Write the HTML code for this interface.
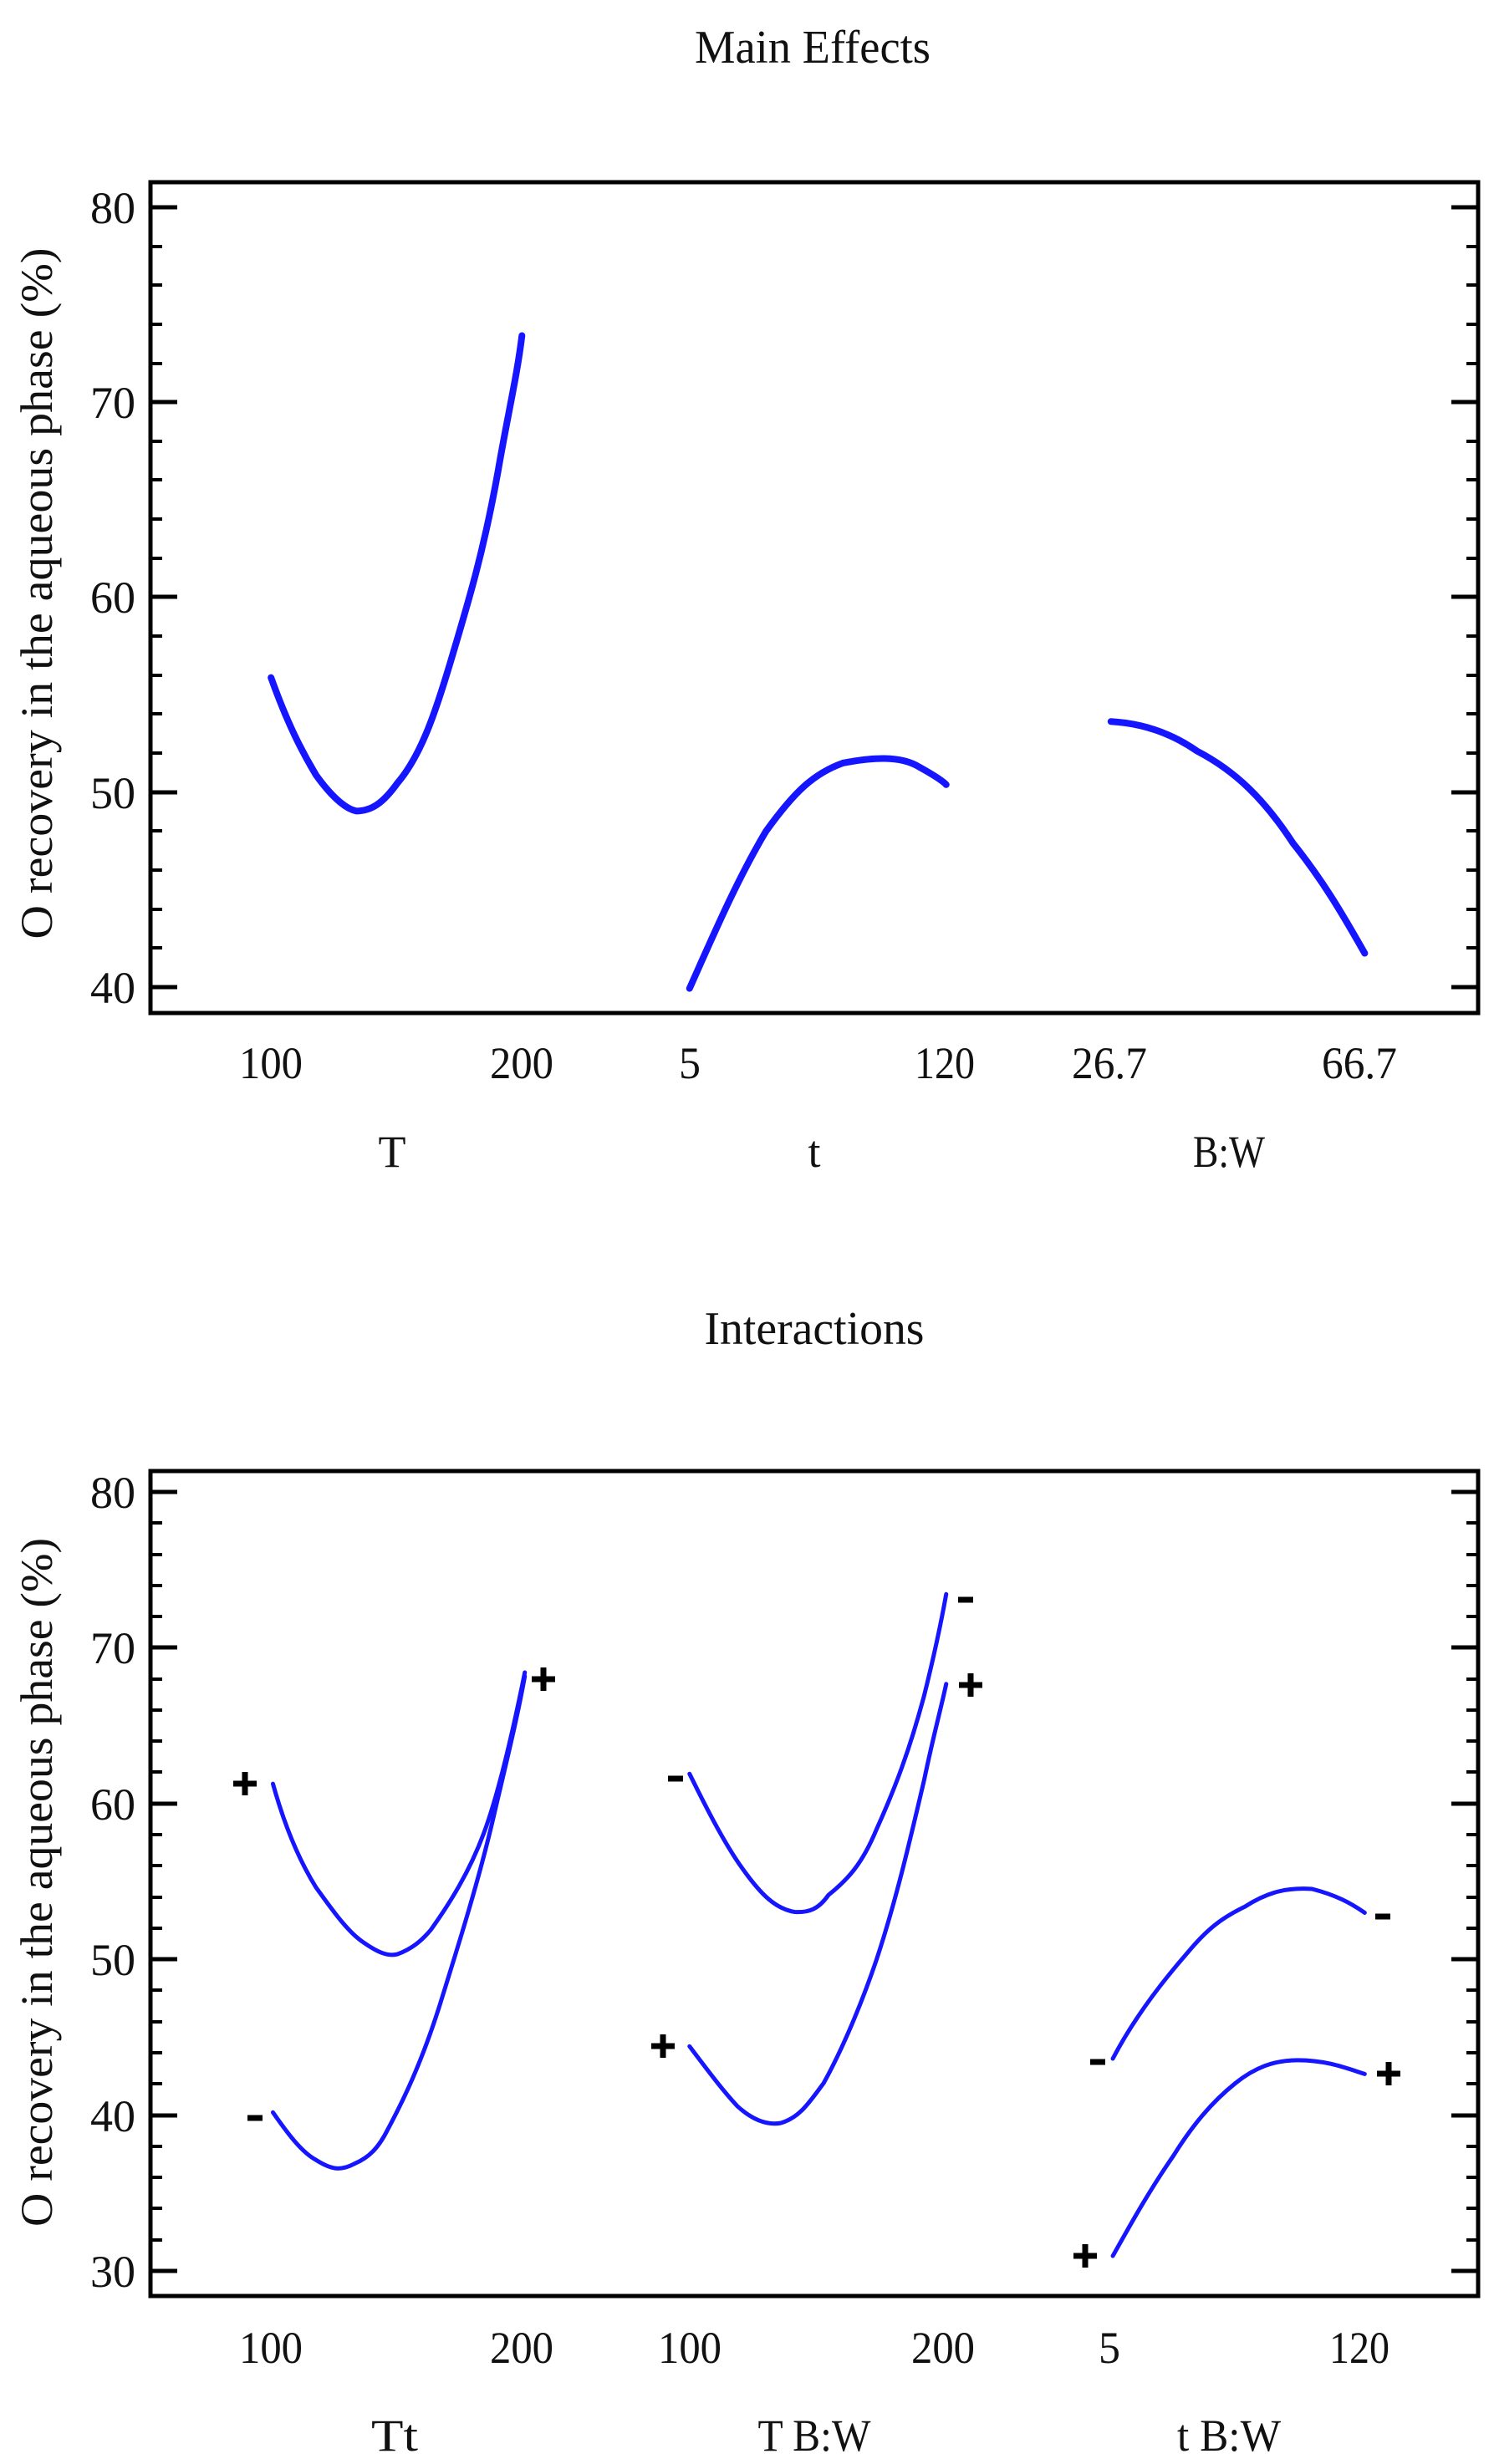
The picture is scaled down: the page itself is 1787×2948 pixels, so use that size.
<!DOCTYPE html>
<html><head><meta charset="utf-8"><style>
html,body{margin:0;padding:0;background:#fff;}
svg{display:block;}
text{font-family:"Liberation Serif",serif;fill:#111;}
</style></head><body>
<svg width="1787" height="2948" viewBox="0 0 1787 2948" xmlns="http://www.w3.org/2000/svg">
<rect width="1787" height="2948" fill="#fff"/>

<!-- ===== Main Effects ===== -->
<text x="972" y="75" font-size="56" text-anchor="middle" textLength="282" lengthAdjust="spacingAndGlyphs">Main Effects</text>
<rect x="180" y="218" width="1588" height="994" fill="none" stroke="#000" stroke-width="5"/>
<g stroke="#000" stroke-width="5">
<line x1="180" y1="248" x2="212" y2="248"/><line x1="1768" y1="248" x2="1736" y2="248"/>
<line x1="180" y1="481" x2="212" y2="481"/><line x1="1768" y1="481" x2="1736" y2="481"/>
<line x1="180" y1="714" x2="212" y2="714"/><line x1="1768" y1="714" x2="1736" y2="714"/>
<line x1="180" y1="948" x2="212" y2="948"/><line x1="1768" y1="948" x2="1736" y2="948"/>
<line x1="180" y1="1181" x2="212" y2="1181"/><line x1="1768" y1="1181" x2="1736" y2="1181"/>
</g>
<g stroke="#000" stroke-width="4">
<line x1="180" y1="295" x2="194" y2="295"/><line x1="180" y1="341" x2="194" y2="341"/><line x1="180" y1="388" x2="194" y2="388"/><line x1="180" y1="435" x2="194" y2="435"/>
<line x1="180" y1="528" x2="194" y2="528"/><line x1="180" y1="574" x2="194" y2="574"/><line x1="180" y1="621" x2="194" y2="621"/><line x1="180" y1="668" x2="194" y2="668"/>
<line x1="180" y1="761" x2="194" y2="761"/><line x1="180" y1="808" x2="194" y2="808"/><line x1="180" y1="854" x2="194" y2="854"/><line x1="180" y1="901" x2="194" y2="901"/>
<line x1="180" y1="994" x2="194" y2="994"/><line x1="180" y1="1041" x2="194" y2="1041"/><line x1="180" y1="1088" x2="194" y2="1088"/><line x1="180" y1="1134" x2="194" y2="1134"/>
<line x1="1768" y1="295" x2="1754" y2="295"/><line x1="1768" y1="341" x2="1754" y2="341"/><line x1="1768" y1="388" x2="1754" y2="388"/><line x1="1768" y1="435" x2="1754" y2="435"/>
<line x1="1768" y1="528" x2="1754" y2="528"/><line x1="1768" y1="574" x2="1754" y2="574"/><line x1="1768" y1="621" x2="1754" y2="621"/><line x1="1768" y1="668" x2="1754" y2="668"/>
<line x1="1768" y1="761" x2="1754" y2="761"/><line x1="1768" y1="808" x2="1754" y2="808"/><line x1="1768" y1="854" x2="1754" y2="854"/><line x1="1768" y1="901" x2="1754" y2="901"/>
<line x1="1768" y1="994" x2="1754" y2="994"/><line x1="1768" y1="1041" x2="1754" y2="1041"/><line x1="1768" y1="1088" x2="1754" y2="1088"/><line x1="1768" y1="1134" x2="1754" y2="1134"/>
</g>
<g font-size="54" text-anchor="end">
<text x="162" y="267" textLength="54" lengthAdjust="spacingAndGlyphs">80</text>
<text x="162" y="500" textLength="54" lengthAdjust="spacingAndGlyphs">70</text>
<text x="162" y="733" textLength="54" lengthAdjust="spacingAndGlyphs">60</text>
<text x="162" y="967" textLength="54" lengthAdjust="spacingAndGlyphs">50</text>
<text x="162" y="1200" textLength="54" lengthAdjust="spacingAndGlyphs">40</text>
</g>
<text transform="translate(62,710) rotate(-90)" font-size="54" text-anchor="middle" textLength="827" lengthAdjust="spacingAndGlyphs">O recovery in the aqueous phase (%)</text>
<g font-size="54" text-anchor="middle">
<text x="324" y="1290" textLength="76" lengthAdjust="spacingAndGlyphs">100</text>
<text x="624" y="1290" textLength="76" lengthAdjust="spacingAndGlyphs">200</text>
<text x="825" y="1290" textLength="26" lengthAdjust="spacingAndGlyphs">5</text>
<text x="1130" y="1290" textLength="72" lengthAdjust="spacingAndGlyphs">120</text>
<text x="1327" y="1290" textLength="90" lengthAdjust="spacingAndGlyphs">26.7</text>
<text x="1626" y="1290" textLength="90" lengthAdjust="spacingAndGlyphs">66.7</text>
<text x="469" y="1396">T</text>
<text x="974" y="1396">t</text>
<text x="1470" y="1396" textLength="86" lengthAdjust="spacingAndGlyphs">B:W</text>
</g>
<g transform="scale(1.1455,0.956)" fill="none" stroke="#1515ff" stroke-width="8" stroke-linecap="round" stroke-linejoin="round">
<path vector-effect="non-scaling-stroke" d="M283,848 C300,905 315,940 330,970 C345,995 360,1012 372,1015 C388,1015 400,1005 415,980 C440,945 455,890 470,830 C490,750 505,690 520,590 C530,520 540,470 545,420"/>
<path vector-effect="non-scaling-stroke" d="M720,1237 C745,1170 770,1100 800,1040 C830,990 850,968 880,955 C910,948 940,945 960,960 C975,970 985,978 988,982"/>
<path vector-effect="non-scaling-stroke" d="M1160,903 C1190,905 1220,915 1250,940 C1290,965 1320,1000 1350,1055 C1380,1100 1400,1140 1425,1193"/>
</g>

<!-- ===== Interactions ===== -->
<text x="974" y="1608" font-size="56" text-anchor="middle" textLength="263" lengthAdjust="spacingAndGlyphs">Interactions</text>
<rect x="180" y="1760" width="1588" height="987" fill="none" stroke="#000" stroke-width="5"/>
<g stroke="#000" stroke-width="5">
<line x1="180" y1="1785" x2="212" y2="1785"/><line x1="1768" y1="1785" x2="1736" y2="1785"/>
<line x1="180" y1="1971" x2="212" y2="1971"/><line x1="1768" y1="1971" x2="1736" y2="1971"/>
<line x1="180" y1="2158" x2="212" y2="2158"/><line x1="1768" y1="2158" x2="1736" y2="2158"/>
<line x1="180" y1="2344" x2="212" y2="2344"/><line x1="1768" y1="2344" x2="1736" y2="2344"/>
<line x1="180" y1="2531" x2="212" y2="2531"/><line x1="1768" y1="2531" x2="1736" y2="2531"/>
<line x1="180" y1="2717" x2="212" y2="2717"/><line x1="1768" y1="2717" x2="1736" y2="2717"/>
</g>
<g stroke="#000" stroke-width="4">
<line x1="180" y1="1822" x2="194" y2="1822"/><line x1="180" y1="1860" x2="194" y2="1860"/><line x1="180" y1="1897" x2="194" y2="1897"/><line x1="180" y1="1934" x2="194" y2="1934"/>
<line x1="180" y1="2009" x2="194" y2="2009"/><line x1="180" y1="2046" x2="194" y2="2046"/><line x1="180" y1="2083" x2="194" y2="2083"/><line x1="180" y1="2120" x2="194" y2="2120"/>
<line x1="180" y1="2195" x2="194" y2="2195"/><line x1="180" y1="2232" x2="194" y2="2232"/><line x1="180" y1="2270" x2="194" y2="2270"/><line x1="180" y1="2307" x2="194" y2="2307"/>
<line x1="180" y1="2381" x2="194" y2="2381"/><line x1="180" y1="2419" x2="194" y2="2419"/><line x1="180" y1="2456" x2="194" y2="2456"/><line x1="180" y1="2493" x2="194" y2="2493"/>
<line x1="180" y1="2568" x2="194" y2="2568"/><line x1="180" y1="2605" x2="194" y2="2605"/><line x1="180" y1="2642" x2="194" y2="2642"/><line x1="180" y1="2680" x2="194" y2="2680"/>
<line x1="1768" y1="1822" x2="1754" y2="1822"/><line x1="1768" y1="1860" x2="1754" y2="1860"/><line x1="1768" y1="1897" x2="1754" y2="1897"/><line x1="1768" y1="1934" x2="1754" y2="1934"/>
<line x1="1768" y1="2009" x2="1754" y2="2009"/><line x1="1768" y1="2046" x2="1754" y2="2046"/><line x1="1768" y1="2083" x2="1754" y2="2083"/><line x1="1768" y1="2120" x2="1754" y2="2120"/>
<line x1="1768" y1="2195" x2="1754" y2="2195"/><line x1="1768" y1="2232" x2="1754" y2="2232"/><line x1="1768" y1="2270" x2="1754" y2="2270"/><line x1="1768" y1="2307" x2="1754" y2="2307"/>
<line x1="1768" y1="2381" x2="1754" y2="2381"/><line x1="1768" y1="2419" x2="1754" y2="2419"/><line x1="1768" y1="2456" x2="1754" y2="2456"/><line x1="1768" y1="2493" x2="1754" y2="2493"/>
<line x1="1768" y1="2568" x2="1754" y2="2568"/><line x1="1768" y1="2605" x2="1754" y2="2605"/><line x1="1768" y1="2642" x2="1754" y2="2642"/><line x1="1768" y1="2680" x2="1754" y2="2680"/>
</g>
<g font-size="54" text-anchor="end">
<text x="162" y="1804" textLength="54" lengthAdjust="spacingAndGlyphs">80</text>
<text x="162" y="1990" textLength="54" lengthAdjust="spacingAndGlyphs">70</text>
<text x="162" y="2177" textLength="54" lengthAdjust="spacingAndGlyphs">60</text>
<text x="162" y="2363" textLength="54" lengthAdjust="spacingAndGlyphs">50</text>
<text x="162" y="2550" textLength="54" lengthAdjust="spacingAndGlyphs">40</text>
<text x="162" y="2736" textLength="54" lengthAdjust="spacingAndGlyphs">30</text>
</g>
<text transform="translate(62,2252) rotate(-90)" font-size="54" text-anchor="middle" textLength="824" lengthAdjust="spacingAndGlyphs">O recovery in the aqueous phase (%)</text>
<g font-size="54" text-anchor="middle">
<text x="324" y="2827" textLength="76" lengthAdjust="spacingAndGlyphs">100</text>
<text x="624" y="2827" textLength="76" lengthAdjust="spacingAndGlyphs">200</text>
<text x="825" y="2827" textLength="76" lengthAdjust="spacingAndGlyphs">100</text>
<text x="1128" y="2827" textLength="76" lengthAdjust="spacingAndGlyphs">200</text>
<text x="1327" y="2827" textLength="26" lengthAdjust="spacingAndGlyphs">5</text>
<text x="1626" y="2827" textLength="72" lengthAdjust="spacingAndGlyphs">120</text>
<text x="472" y="2932" textLength="56" lengthAdjust="spacingAndGlyphs">Tt</text>
<text x="974" y="2932" textLength="135" lengthAdjust="spacingAndGlyphs">T B:W</text>
<text x="1470" y="2932" textLength="124" lengthAdjust="spacingAndGlyphs">t B:W</text>
</g>
<g transform="translate(0,1505) scale(1.1455,0.9185)" fill="none" stroke="#1515ff" stroke-width="5" stroke-linecap="round" stroke-linejoin="round">
<path vector-effect="non-scaling-stroke" d="M285,685 C295,730 310,780 330,820 C350,855 365,880 380,892 C395,905 405,910 415,907 C430,900 440,890 450,875 C470,840 490,800 505,750 C520,700 535,620 548,540"/>
<path vector-effect="non-scaling-stroke" d="M285,1113 C300,1140 315,1165 330,1175 C345,1187 355,1190 370,1180 C385,1172 395,1160 405,1135 C420,1100 440,1050 460,970 C480,890 500,810 515,730 C530,650 540,600 548,545"/>
<path vector-effect="non-scaling-stroke" d="M720,672 C735,710 755,760 775,795 C795,830 810,848 830,852 C845,853 855,848 865,830 C885,810 900,790 915,745 C935,690 950,640 965,570 C975,520 982,480 988,438"/>
<path vector-effect="non-scaling-stroke" d="M720,1027 C740,1060 755,1085 770,1105 C785,1122 800,1130 815,1127 C835,1120 845,1100 860,1075 C880,1030 900,970 915,915 C935,840 950,760 965,680 C975,620 982,590 988,555"/>
<path vector-effect="non-scaling-stroke" d="M1162,1043 C1180,1000 1205,955 1240,905 C1260,875 1275,860 1300,845 C1325,825 1345,820 1370,822 C1395,830 1410,840 1425,853"/>
<path vector-effect="non-scaling-stroke" d="M1162,1300 C1180,1260 1200,1215 1225,1170 C1245,1130 1265,1100 1290,1075 C1310,1055 1330,1045 1355,1045 C1385,1045 1405,1055 1425,1063"/>
</g>
<!-- markers -->
<g stroke="#000" stroke-width="7">
<line x1="279" y1="2134" x2="307" y2="2134"/><line x1="293" y1="2120" x2="293" y2="2148"/>
<line x1="636" y1="2009" x2="664" y2="2009"/><line x1="650" y1="1995" x2="650" y2="2023"/>
<line x1="779" y1="2448" x2="807" y2="2448"/><line x1="793" y1="2434" x2="793" y2="2462"/>
<line x1="1147" y1="2016" x2="1175" y2="2016"/><line x1="1161" y1="2002" x2="1161" y2="2030"/>
<line x1="1284" y1="2699" x2="1312" y2="2699"/><line x1="1298" y1="2685" x2="1298" y2="2713"/>
<line x1="1647" y1="2481" x2="1675" y2="2481"/><line x1="1661" y1="2467" x2="1661" y2="2495"/>
<line x1="296" y1="2534" x2="314" y2="2534"/>
<line x1="799" y1="2128" x2="817" y2="2128"/>
<line x1="1146" y1="1914" x2="1164" y2="1914"/>
<line x1="1304" y1="2467" x2="1322" y2="2467"/>
<line x1="1645" y1="2293" x2="1663" y2="2293"/>
</g>
</svg>
</body></html>
